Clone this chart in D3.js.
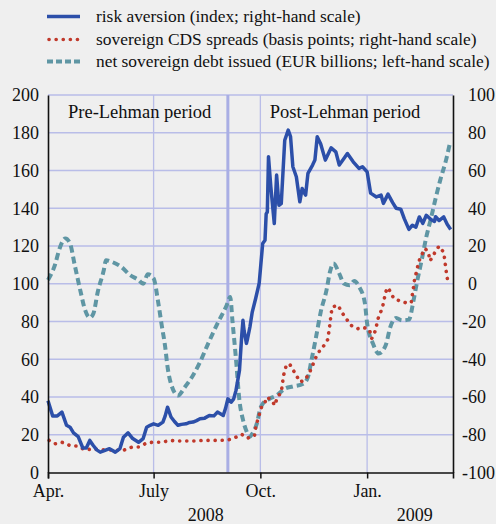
<!DOCTYPE html>
<html><head><meta charset="utf-8">
<script src="https://cdn.jsdelivr.net/npm/d3@7/dist/d3.min.js"></script>
</head>
<body style="margin:0;background:#efefef">
<svg id="c" width="496" height="524" style="display:block"></svg>
<script>
// ---- data ----
const riskDates = ["2008-04-01","2008-04-05","2008-04-09","2008-04-13","2008-04-17","2008-04-20","2008-04-23","2008-04-27","2008-05-01","2008-05-04","2008-05-07","2008-05-10","2008-05-13","2008-05-16","2008-05-19","2008-05-24","2008-05-29","2008-06-02","2008-06-05","2008-06-09","2008-06-13","2008-06-18","2008-06-22","2008-06-25","2008-06-28","2008-07-01","2008-07-05","2008-07-09","2008-07-11","2008-07-13","2008-07-16","2008-07-19","2008-07-22","2008-07-25","2008-07-29","2008-08-01","2008-08-04","2008-08-07","2008-08-10","2008-08-14","2008-08-18","2008-08-22","2008-08-25","2008-08-30","2008-09-01","2008-09-03","2008-09-06","2008-09-08","2008-09-10","2008-09-13","2008-09-15","2008-09-16","2008-09-17","2008-09-19","2008-09-20","2008-09-22","2008-09-24","2008-09-27","2008-09-30","2008-10-03","2008-10-05","2008-10-06","2008-10-07","2008-10-08","2008-10-10","2008-10-13","2008-10-15","2008-10-17","2008-10-19","2008-10-22","2008-10-25","2008-10-27","2008-10-29","2008-11-01","2008-11-04","2008-11-06","2008-11-08","2008-11-09","2008-11-11","2008-11-15","2008-11-17","2008-11-19","2008-11-22","2008-11-26","2008-12-01","2008-12-05","2008-12-08","2008-12-12","2008-12-15","2008-12-20","2008-12-25","2008-12-28","2009-01-01","2009-01-04","2009-01-09","2009-01-13","2009-01-15","2009-01-19","2009-01-23","2009-01-26","2009-01-30","2009-02-02","2009-02-06","2009-02-09","2009-02-12","2009-02-15","2009-02-18","2009-02-21","2009-02-25","2009-02-28","2009-03-01","2009-03-04","2009-03-08","2009-03-11","2009-03-14"];
const riskValues = [-62,-70,-70,-68,-75,-76,-79,-81,-87,-87,-83,-85.7,-88,-89.2,-88.5,-87.4,-89.2,-87.3,-81.3,-79,-82,-84,-82,-76,-75,-74.2,-75,-73.3,-70,-65.4,-70.6,-73,-75,-74.5,-74.2,-73.5,-73.3,-72.5,-71.5,-71.2,-69.8,-70,-68,-69.8,-66,-61,-62.7,-61,-56.5,-45.9,-27,-19.4,-25,-31.6,-29,-22.9,-15,-7.7,0.3,21.3,23,37,38,67.3,51.4,31.9,57.6,41.6,42.5,76,81.4,78,62,56.7,43.4,50.5,47.9,47,58.5,62.9,65.5,77.9,74,65.5,72,69.9,62.9,66.4,69,64.6,61.1,62,59.3,48,46,47,42.6,47.5,43,40,39.5,34.5,28.8,31,30,35.4,32,36.3,34,33,35.5,33.5,35.4,31.5,28.8];

const cdsDates = ["2008-04-02","2008-04-07","2008-04-13","2008-04-20","2008-04-26","2008-05-03","2008-05-10","2008-05-17","2008-05-24","2008-05-30","2008-06-05","2008-06-12","2008-06-18","2008-06-25","2008-07-01","2008-07-08","2008-07-15","2008-07-22","2008-07-29","2008-08-05","2008-08-13","2008-08-20","2008-08-27","2008-09-03","2008-09-09","2008-09-15","2008-09-20","2008-09-26","2008-09-27","2008-09-29","2008-10-02","2008-10-05","2008-10-07","2008-10-12","2008-10-13","2008-10-16","2008-10-19","2008-10-20","2008-10-21","2008-10-23","2008-10-26","2008-10-29","2008-11-01","2008-11-04","2008-11-08","2008-11-12","2008-11-15","2008-11-18","2008-11-21","2008-11-25","2008-11-28","2008-11-29","2008-11-30","2008-12-01","2008-12-02","2008-12-07","2008-12-10","2008-12-14","2008-12-18","2008-12-24","2008-12-29","2009-01-03","2009-01-05","2009-01-08","2009-01-11","2009-01-14","2009-01-17","2009-01-19","2009-01-21","2009-01-24","2009-01-29","2009-02-03","2009-02-08","2009-02-09","2009-02-10","2009-02-11","2009-02-13","2009-02-14","2009-02-17","2009-02-20","2009-02-23","2009-02-24","2009-02-26","2009-03-01","2009-03-04","2009-03-08","2009-03-09","2009-03-10","2009-03-11","2009-03-12"];
const cdsValues = [-83,-84.8,-84,-85.7,-86,-88,-87.5,-88,-88,-88.2,-88.2,-86.6,-86.5,-84.4,-83.9,-84,-83,-83.3,-83.3,-83.3,-83,-83,-83,-82.8,-81.6,-79.8,-81.8,-80.4,-76,-71.5,-65.4,-62.7,-60,-62.7,-64.5,-60,-57.4,-53,-48.5,-44,-42.3,-45.5,-48.5,-52,-51.2,-47.6,-43.2,-38.8,-35.6,-32.6,-29.6,-25.6,-21.1,-15.8,-12.3,-11.4,-15,-18.5,-22,-23.8,-23.2,-24.3,-29,-25,-17.2,-13.2,-4.3,-2,-4.3,-7.8,-9.1,-10,-10,-5.6,-1.7,2.8,7.2,11,15.3,18.7,16.3,12.1,13.7,17.4,19.9,16.6,12.1,7.2,3.3,-0.8];

const debtDates = ["2008-04-01","2008-04-07","2008-04-11","2008-04-16","2008-04-20","2008-04-24","2008-04-29","2008-05-03","2008-05-07","2008-05-10","2008-05-14","2008-05-19","2008-05-21","2008-05-26","2008-06-03","2008-06-11","2008-06-18","2008-06-22","2008-06-26","2008-07-01","2008-07-05","2008-07-08","2008-07-11","2008-07-13","2008-07-16","2008-07-22","2008-07-28","2008-08-04","2008-08-10","2008-08-17","2008-08-25","2008-09-02","2008-09-05","2008-09-07","2008-09-10","2008-09-13","2008-09-16","2008-09-19","2008-09-22","2008-09-24","2008-09-28","2008-10-01","2008-10-03","2008-10-09","2008-10-15","2008-10-22","2008-10-29","2008-11-07","2008-11-11","2008-11-14","2008-11-18","2008-11-22","2008-11-27","2008-11-30","2008-12-03","2008-12-08","2008-12-12","2008-12-17","2008-12-21","2008-12-25","2008-12-30","2009-01-01","2009-01-06","2009-01-11","2009-01-17","2009-01-21","2009-01-26","2009-01-31","2009-02-06","2009-02-10","2009-02-13","2009-02-17","2009-02-21","2009-02-25","2009-03-01","2009-03-05","2009-03-10","2009-03-13"];
const debtValues = [102,110,118.7,124,121.3,110,96,86,82,84,96,107,112.5,111.6,109,104.5,102,100,105,102.8,90,78,66.5,56,47,40.8,45.3,51.5,58.5,68.3,78.9,88.6,93,80,60,38,28,22,19,20.5,26,34,36.4,39.1,40.8,44.4,45.6,47,50.6,59.4,71.8,85,96.6,106.3,110.7,105.4,100.1,99.2,101.5,98.5,90,79,68.3,63,67.4,77.1,81.9,80.6,81,91.2,101,112.5,124.8,134.6,145.2,154.9,165.5,173.5];

const leftTicks = [0,20,40,60,80,100,120,140,160,180,200];
const rightTicks = [-100,-80,-60,-40,-20,0,20,40,60,80,100];
const monthTicks = ["2008-04-01","2008-07-01","2008-10-01","2009-01-01"];
const monthLabels = ["Apr.","July","Oct.","Jan."];
const yearLabels = [{date:"2008-08-15",text:"2008"},{date:"2009-02-11",text:"2009"}];
const lehmanDate = "2008-09-03";
const periodLabels = [{date:"2008-06-19",text:"Pre-Lehman period"},{date:"2008-12-13",text:"Post-Lehman period"}];
const legendItems = ["risk aversion (index; right-hand scale)","sovereign CDS spreads (basis points; right-hand scale)","net sovereign debt issued (EUR billions; left-hand scale)"];

// ---- drawing ----
const FONT = "Liberation Serif";
const parse = d3.timeParse("%Y-%m-%d");
const svg = d3.select("#c");
const L = 48, R = 453, T = 95, B = 472.5;
const x = d3.scaleTime().domain([parse("2008-04-01"), parse("2009-03-16")]).range([L, R]);
const yL = d3.scaleLinear().domain([0,200]).range([B, T]);
const yR = d3.scaleLinear().domain([-100,100]).range([B, T]);

const colBlue = "#2c4fa9", colRed = "#c0392b", colTeal = "#5f96a4", colGrid = "#b9bde8";

function txt(sel){ return sel.attr("font-family", FONT).attr("fill", "#111"); }

// horizontal grid
svg.append("g").selectAll("line").data(leftTicks.filter(d=>d>0)).join("line")
  .attr("x1", L).attr("x2", R).attr("y1", d=>yL(d)).attr("y2", d=>yL(d))
  .attr("stroke", colGrid).attr("stroke-width", 1.3);
// vertical grid
svg.append("g").selectAll("line").data(monthTicks.slice(1)).join("line")
  .attr("x1", d=>x(parse(d))).attr("x2", d=>x(parse(d))).attr("y1", T).attr("y2", B)
  .attr("stroke", colGrid).attr("stroke-width", 1.3);
// Lehman line
svg.append("line").attr("x1", x(parse(lehmanDate))).attr("x2", x(parse(lehmanDate)))
  .attr("y1", T).attr("y2", B).attr("stroke", "#a9aee4").attr("stroke-width", 3);

// period labels
svg.selectAll("text.period").data(periodLabels).join("text").attr("class","period")
  .attr("x", d=>x(parse(d.date))).attr("y", 118).attr("text-anchor","middle")
  .attr("font-size", 18.5).call(txt).text(d=>d.text);

// series
const lineR = (dates, vals, curve) => d3.line().x((d,i)=>x(parse(dates[i]))).y(d=>yR(d)).curve(curve||d3.curveLinear)(vals);
const lineL = (dates, vals, curve) => d3.line().x((d,i)=>x(parse(dates[i]))).y(d=>yL(d)).curve(curve||d3.curveLinear)(vals);

svg.append("path").attr("d", lineL(debtDates, debtValues, d3.curveMonotoneX))
  .attr("fill","none").attr("stroke", colTeal).attr("stroke-width", 4).attr("stroke-dasharray","7 4");
svg.append("path").attr("d", lineR(cdsDates, cdsValues))
  .attr("fill","none").attr("stroke", colRed).attr("stroke-width", 3.6).attr("stroke-linecap","round").attr("stroke-dasharray","0.1 7");
svg.append("path").attr("d", lineR(riskDates, riskValues))
  .attr("fill","none").attr("stroke", colBlue).attr("stroke-width", 3.5).attr("stroke-linejoin","round");

// axes
const axL = svg.append("g").attr("transform", `translate(${L},0)`)
  .call(d3.axisLeft(yL).tickValues(leftTicks).tickSize(0).tickPadding(9));
const axR = svg.append("g").attr("transform", `translate(${R},0)`)
  .call(d3.axisRight(yR).tickValues(rightTicks).tickFormat(d=>String(d)).tickSize(0).tickPadding(15));
const axB = svg.append("g").attr("transform", `translate(0,${B})`)
  .call(d3.axisBottom(x).tickValues(monthTicks.map(parse)).tickFormat((d,i)=>monthLabels[i]).tickSize(6).tickPadding(6));
[axL, axR, axB].forEach(g=>{
  g.attr("font-family", FONT).attr("font-size", 18);
  g.selectAll("text").call(txt).attr("font-size",18);
  g.select(".domain").attr("stroke","#111").attr("stroke-width",1.6);
  g.selectAll(".tick line").attr("stroke","#111").attr("stroke-width",1.5);
});
axR.selectAll("text").attr("text-anchor","start").attr("dx", d=>d<0?-6:0);
svg.selectAll("text.year").data(yearLabels).join("text").attr("class","year")
  .attr("x", d=>x(parse(d.date))).attr("y", 521).attr("text-anchor","middle")
  .attr("font-size",18).call(txt).text(d=>d.text);

// legend
const ly = [16.5, 39.5, 61.5];
const lstyles = [
  {c:colBlue, w:3.5, dash:null, cap:"butt"},
  {c:colRed, w:3.6, dash:"0.1 7", cap:"round"},
  {c:colTeal, w:4, dash:"6 3", cap:"butt"}];
legendItems.forEach((t,i)=>{
  svg.append("line").attr("x1", i===1?49:47).attr("x2", 80).attr("y1", ly[i]).attr("y2", ly[i])
    .attr("stroke", lstyles[i].c).attr("stroke-width", lstyles[i].w)
    .attr("stroke-dasharray", lstyles[i].dash).attr("stroke-linecap", lstyles[i].cap);
  svg.append("text").attr("x", 96).attr("y", ly[i]+5.5).attr("font-size", 17.4).call(txt).text(t);
});
</script></body></html>
